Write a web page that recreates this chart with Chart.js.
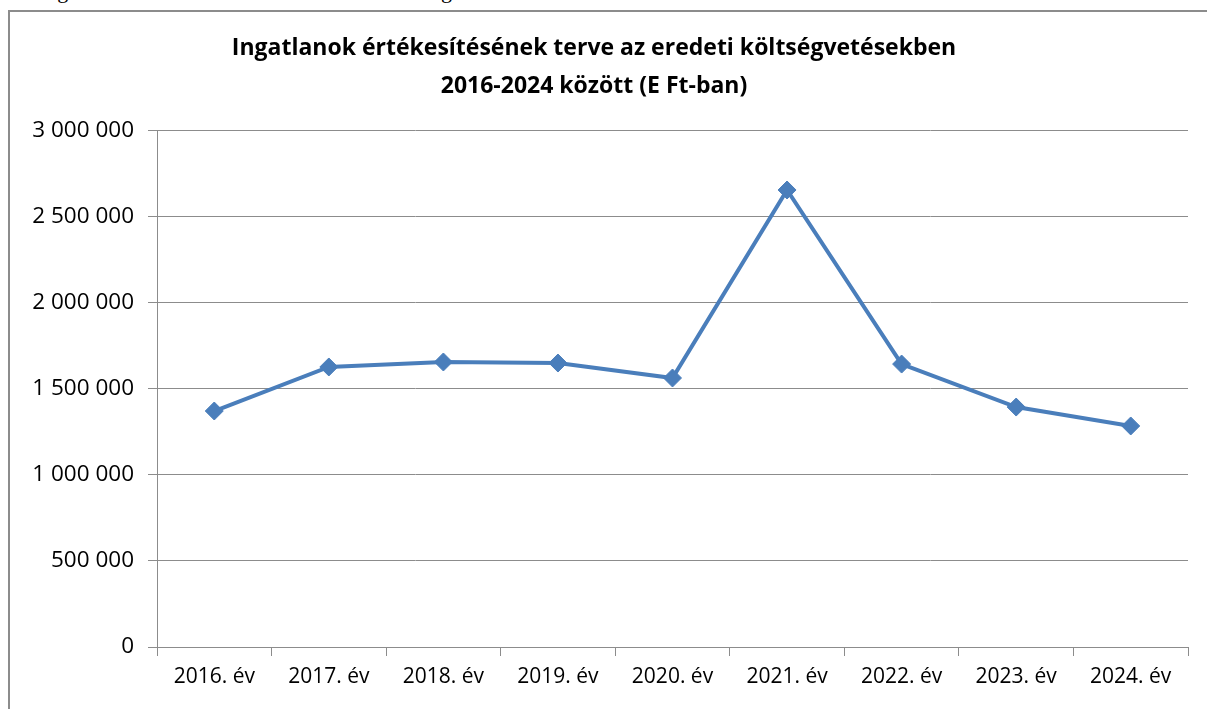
<!DOCTYPE html>
<html>
<head>
<meta charset="utf-8">
<script src="https://cdn.jsdelivr.net/npm/chart.js@4.4.0/dist/chart.umd.min.js"></script>
<style>
  html, body { margin: 0; padding: 0; background: #fff; overflow: hidden; }
  body { width: 1207px; height: 709px; position: relative; }
  #cut { position: absolute; left: -60px; top: -22px; white-space: nowrap;
         font-family: "Liberation Serif", serif; font-size: 22px; color: #000; }
  #frame { position: absolute; left: 8px; top: 10px; width: 1220px; height: 720px;
           border: 2px solid #8c8c8c; box-sizing: border-box; }
  #wrap { position: absolute; left: 0; top: 0; width: 1207px; height: 709px; }
</style>
</head>
<body>
<div id="cut">Az alábbi diagram szemlélteti az elmúlt évek tervezett ingatlanértékesítéseinek alakulását.</div>
<div id="frame"></div>
<div id="wrap"><canvas id="c" width="1207" height="709"></canvas></div>
<script>
const categories = ["2016. év", "2017. év", "2018. év", "2019. év", "2020. év", "2021. év", "2022. év", "2023. év", "2024. év"];
const values = [1372000, 1628000, 1657000, 1651000, 1564000, 2657000, 1645000, 1395000, 1285000];
const titleLines = ["Ingatlanok értékesítésének terve az eredeti költségvetésekben", "2016-2024 között (E Ft-ban)"];
const yTicks = [0, 500000, 1000000, 1500000, 2000000, 2500000, 3000000];

function fmt(v) {
  return String(v).replace(/\B(?=(\d{3})+(?!\d))/g, " ");
}

const FONT = "'Open Sans', sans-serif";

new Chart(document.getElementById("c"), {
  type: "line",
  data: {
    labels: categories,
    datasets: [{
      data: values,
      borderColor: "#4a7ebb",
      backgroundColor: "#4a7ebb",
      borderWidth: 4,
      pointStyle: "rectRot",
      pointRadius: 9,
      pointHoverRadius: 9,
      pointBorderWidth: 1,
      tension: 0,
      fill: false
    }]
  },
  options: {
    responsive: false,
    animation: false,
    events: [],
    layout: { padding: { left: 0, right: 19, top: 0, bottom: 0 } },
    plugins: {
      legend: { display: false },
      tooltip: { enabled: false },
      title: {
        display: true,
        text: titleLines,
        color: "#000",
        font: { family: FONT, size: 23, weight: "bold", lineHeight: 1.652 },
        padding: { top: 29, bottom: 26 }
      }
    },
    scales: {
      x: {
        offset: true,
        grid: { display: true, offset: true, drawOnChartArea: false, drawTicks: true, tickLength: 9, color: "#8c8c8c", lineWidth: 1 },
        border: { display: true, color: "#8c8c8c", width: 1 },
        ticks: { color: "#000", font: { family: FONT, size: 21 }, padding: 8, maxRotation: 0, autoSkip: false },
        afterFit: (s) => { s.height = 62; }
      },
      y: {
        min: 0,
        max: 3000000,
        afterBuildTicks: (s) => { s.ticks = yTicks.map(v => ({ value: v })); },
        grid: { color: "#8c8c8c", lineWidth: 1, drawTicks: true, tickLength: 9 },
        border: { display: true, color: "#8c8c8c", width: 1 },
        ticks: { color: "#000", font: { family: FONT, size: 22.5 }, padding: 14, callback: (v) => fmt(v) },
        afterFit: (s) => { s.width = 157; }
      }
    }
  }
});
</script>
</body>
</html>
